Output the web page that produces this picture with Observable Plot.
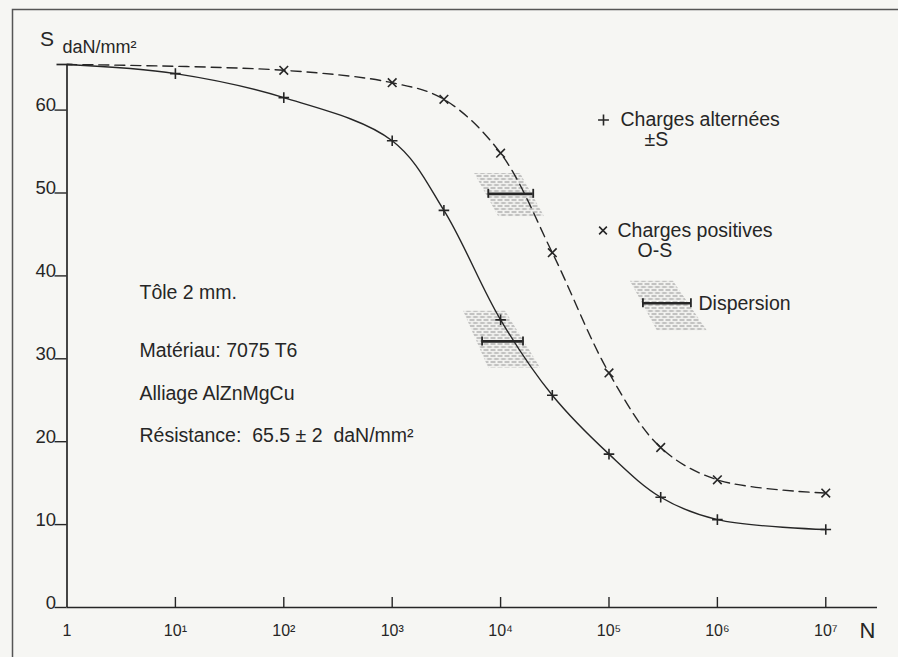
<!DOCTYPE html>
<html>
<head>
<meta charset="utf-8">
<script src="https://cdn.jsdelivr.net/npm/d3@7"></script>
<script src="https://cdn.jsdelivr.net/npm/@observablehq/plot@0.6"></script>
<style>
  html, body { margin: 0; padding: 0; background: #f6f6f3; overflow: hidden; }
  #chart { width: 898px; height: 657px; overflow: hidden; }
</style>
</head>
<body>
<div id="chart"></div>
<script>
// ---- data ----
// Charges alternées ±S (solid curve, + markers)
const altN = [1, 10, 100, 1000, 3000, 10000, 30000, 100000, 300000, 1000000, 10000000];
const altS = [65.5, 64.4, 61.5, 56.3, 47.9, 34.7, 25.6, 18.5, 13.3, 10.6, 9.4];
// Charges positives 0-S (dashed curve, × markers)
const posN = [1, 100, 1000, 3000, 10000, 30000, 100000, 300000, 1000000, 10000000];
const posS = [65.5, 64.8, 63.3, 61.3, 54.8, 42.8, 28.3, 19.3, 15.4, 13.8];
// Dispersion bars (S level, N range)
const dispId = ["upper", "lower", "legend"];
const dispS  = [49.9, 32.1, 36.7];
const dispLo = [7700, 6750, 205600];
const dispHi = [20000, 16100, 570000];
// Dispersion shaded zones (vertices N, S)
const zoneId = ["upper","upper","upper","upper","lower","lower","lower","lower","legend","legend","legend","legend"];
const zoneN  = [5700, 15100, 25200, 9500, 4510, 11000, 23100, 7670, 156000, 389000, 800000, 277000];
const zoneS  = [52.4, 52.4, 47.2, 47.2, 35.8, 35.8, 28.95, 28.95, 39.4, 39.4, 33.4, 33.4];
// Axis ticks
const xTicks = [1, 1e1, 1e2, 1e3, 1e4, 1e5, 1e6, 1e7];
const xTickLabels = ["1", "10\u00B9", "10\u00B2", "10\u00B3", "10\u2074", "10\u2075", "10\u2076", "10\u2077"];
const yTicks = [0, 10, 20, 30, 40, 50, 60];
const yTickLabels = ["0", "10", "20", "30", "40", "50", "60"];
const yMax = 65.5;
const notes = ["Tôle 2 mm.", "Matériau: 7075 T6", "Alliage AlZnMgCu", "Résistance:  65.5 ± 2  daN/mm²"];

// ---- build tables ----
const alt = altN.map((n, i) => ({N: n, S: altS[i]}));
const pos = posN.map((n, i) => ({N: n, S: posS[i]}));
const disp = dispId.map((id, i) => ({id, S: dispS[i], lo: dispLo[i], hi: dispHi[i]}));
const zones = zoneId.map((id, i) => ({id, N: zoneN[i], S: zoneS[i]}));
const capEnds = disp.flatMap(d => [{S: d.S, N: d.lo}, {S: d.S, N: d.hi}]);

const ink = "#262626";
const font = "Liberation Sans, Arial, sans-serif";
const fs = 19.5;

const noteDy = [228, 286, 329, 371];
const label = (t, dx, dy, extra = {}) =>
  Plot.text([t], {frameAnchor: "top-left", dx, dy, textAnchor: "start", lineAnchor: "middle", fontSize: fs, fill: ink, ...extra});

const plot = Plot.plot({
  width: 898,
  height: 657,
  marginLeft: 66.5,
  marginRight: 21,
  marginTop: 64,
  marginBottom: 50,
  style: {background: "#f6f6f3", fontFamily: font, color: ink, overflow: "hidden"},
  x: {type: "log", domain: [1, 3e7], axis: null},
  y: {domain: [0, yMax], axis: null},
  marks: [
    // outer border of the figure (only top and left edges fall inside the picture)
    Plot.frame({stroke: "#555", strokeWidth: 1.5, insetLeft: -54.5, insetTop: -55, insetRight: -300, insetBottom: -300}),
    // dispersion shaded zones
    Plot.line(zones, {x: "N", y: "S", z: "id", curve: "linear-closed", fill: "url(#hatch)", stroke: "none"}),
    // axes
    Plot.ruleX([1], {stroke: ink, strokeWidth: 1.7}),
    Plot.ruleY([0], {stroke: ink, strokeWidth: 1.7}),
    Plot.ruleY(yTicks, {y: d => d, x1: 1, x2: 1, insetLeft: -12, stroke: ink, strokeWidth: 1.4}),
    Plot.ruleY([yMax], {y: d => d, x1: 1, x2: 1, insetLeft: -10, insetRight: -6, stroke: ink, strokeWidth: 1.7}),
    Plot.ruleX(xTicks.slice(1), {x: d => d, y1: 0, y2: 0, insetTop: -10, stroke: ink, strokeWidth: 1.4}),
    Plot.text(yTicks, {x: 1, y: d => d, text: (d, i) => yTickLabels[i], textAnchor: "end", lineAnchor: "bottom", dx: -11, dy: 1, fontSize: 18.5, fill: ink}),
    Plot.text(xTicks, {x: d => d, y: 0, text: (d, i) => xTickLabels[i], lineAnchor: "middle", dy: 23, fontSize: 16, fill: ink}),
    Plot.text(["N"], {frameAnchor: "bottom-right", textAnchor: "middle", lineAnchor: "middle", dx: -10, dy: 23, fontSize: 22, fill: ink}),
    Plot.text(["S"], {frameAnchor: "top-left", textAnchor: "middle", lineAnchor: "middle", dx: -20, dy: -25.5, fontSize: 21, fill: ink}),
    Plot.text(["daN/mm²"], {frameAnchor: "top-left", textAnchor: "start", lineAnchor: "middle", dx: -4.5, dy: -17, fontSize: 18, fill: ink}),
    // curves
    Plot.line(alt, {x: "N", y: "S", curve: "catmull-rom", stroke: ink, strokeWidth: 1.4}),
    Plot.line(pos, {x: "N", y: "S", curve: "catmull-rom", stroke: ink, strokeWidth: 1.4, strokeDasharray: "10,6"}),
    // markers
    Plot.dot(alt.slice(1), {x: "N", y: "S", symbol: "plus", r: 3.5, stroke: ink, strokeWidth: 1.6}),
    Plot.dot(pos.slice(1), {x: "N", y: "S", symbol: "times", r: 4, stroke: ink, strokeWidth: 1.6}),
    // dispersion bars
    Plot.ruleY(disp, {y: "S", x1: "lo", x2: "hi", stroke: ink, strokeWidth: 2.6}),
    Plot.ruleX(capEnds, {x: "N", y1: "S", y2: "S", insetTop: -4.5, insetBottom: -4.5, stroke: ink, strokeWidth: 1.8}),
    // notes
    ...notes.map((t, i) => label(t, 72.5, noteDy[i])),
    // legend
    Plot.dot([0], {frameAnchor: "top-left", dx: 536.5, dy: 55.5, symbol: "plus", r: 3.6, stroke: ink, strokeWidth: 1.6}),
    label("Charges alternées", 553.5, 55),
    label("±S", 577.5, 75.5),
    Plot.dot([0], {frameAnchor: "top-left", dx: 536, dy: 166, symbol: "times", r: 3.6, stroke: ink, strokeWidth: 1.6}),
    label("Charges positives", 550.5, 166),
    label("O-S", 570.5, 186.5),
    label("Dispersion", 631.5, 239)
  ]
});

// hatch pattern for the dispersion zones
const ns = "http://www.w3.org/2000/svg";
const defs = document.createElementNS(ns, "defs");
defs.innerHTML = '<pattern id="hatch" width="7" height="6" patternUnits="userSpaceOnUse">' +
  '<line x1="0" y1="1.5" x2="5" y2="1.5" stroke="#989898" stroke-width="1.2"/>' +
  '<line x1="3.5" y1="4.5" x2="7" y2="4.5" stroke="#989898" stroke-width="1.2"/>' +
  '<line x1="0" y1="4.5" x2="1.5" y2="4.5" stroke="#989898" stroke-width="1.2"/>' +
  '</pattern>';
plot.insertBefore(defs, plot.firstChild);
document.getElementById("chart").appendChild(plot);
</script>
</body>
</html>
